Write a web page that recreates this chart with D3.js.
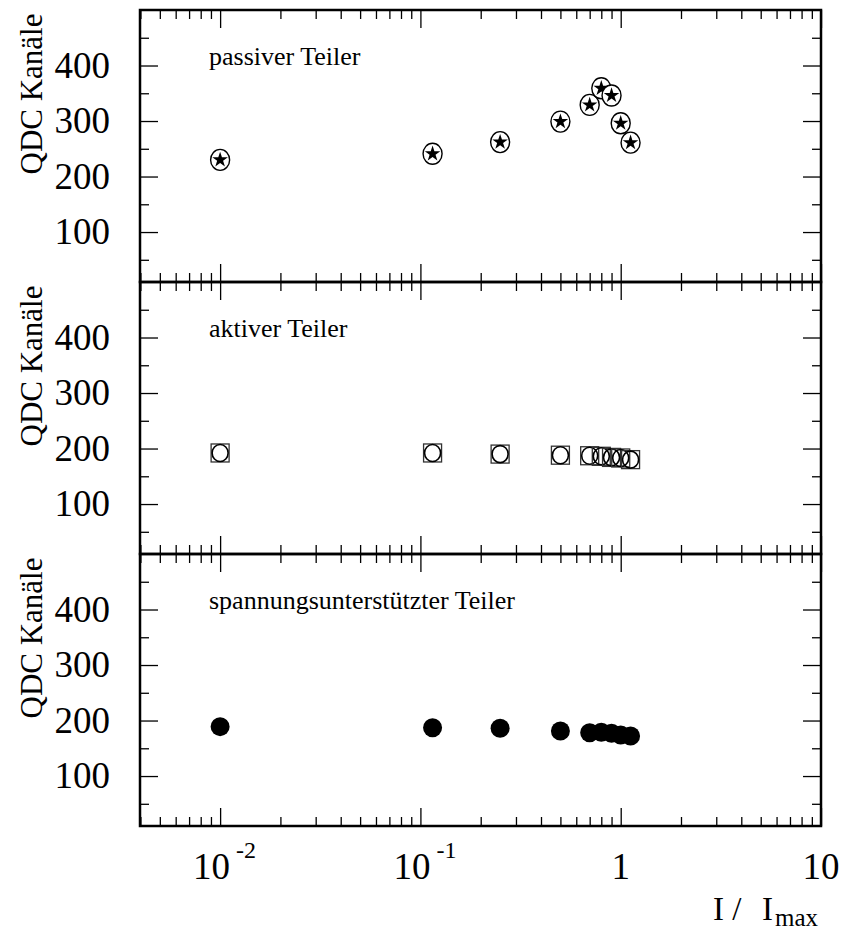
<!DOCTYPE html>
<html>
  <head>
    <meta charset="utf-8" />
    <style>
      body { margin: 0; background: #fff; }
      .tick line { stroke: #000; stroke-width: 1.3; }
      text { font-family: "Liberation Serif", "Times New Roman", Times, serif; }
    </style>
    <script src="https://d3js.org/d3.v7.min.js"></script>
  </head>
  <body>
    <svg id="chart" width="841" height="940"></svg>
    <script>
      // I / Imax values (same for all three dividers)
      var xValues = [0.01, 0.115, 0.25, 0.5, 0.7, 0.8, 0.9, 1.0, 1.12];
      // QDC channels per divider type
      var passiv = [230, 241, 262, 299, 329, 359, 346, 296, 261];
      var aktiv = [192, 192, 190, 188, 187, 186, 184, 183, 180];
      var spannung = [189, 187, 186, 181, 178, 179, 177, 174, 172];
      var panelNames = ['passiver Teiler', 'aktiver Teiler', 'spannungsunterstützter Teiler'];
      var markerTypes = ['star', 'square', 'dot'];

      var yMajor = [100, 200, 300, 400];
      var yMinor = [50, 150, 250, 350, 450];
      var xLabelValues = [0.01, 0.1, 1, 10];
      var xLabelBase = ['10', '10', '1', '10'];
      var xLabelExp = ['-2', '-1', '', ''];

      var svg = d3.select('#chart'),
        left = 140,
        right = 821,
        topY = 10,
        panelH = 272;

      var x = d3.scaleLog().domain([Math.pow(10, -2.4), 10]).range([left, right]);
      var allTicks = x.ticks();
      var xMajor = allTicks.filter((t) => Math.abs(Math.log10(t) - Math.round(Math.log10(t))) < 1e-9);
      var xMinor = allTicks.filter((t) => xMajor.indexOf(t) < 0);

      var series = [passiv, aktiv, spannung];

      series.forEach(function (vals, i) {
        var y0 = topY + i * panelH;
        var y = d3.scaleLinear().domain([10, 500]).range([y0 + panelH, y0]);
        var g = svg.append('g');

        // ticks inside the frame on all four sides
        function addAxis(axis, tr) {
          var a = g.append('g').attr('transform', tr).call(axis);
          a.select('.domain').remove();
          a.selectAll('text').remove();
          return a;
        }
        addAxis(d3.axisRight(y).tickValues(yMajor).tickSize(18), `translate(${left},0)`);
        addAxis(d3.axisRight(y).tickValues(yMinor).tickSize(9), `translate(${left},0)`);
        addAxis(d3.axisLeft(y).tickValues(yMajor).tickSize(18), `translate(${right},0)`);
        addAxis(d3.axisLeft(y).tickValues(yMinor).tickSize(9), `translate(${right},0)`);
        addAxis(d3.axisBottom(x).tickValues(xMajor).tickSize(18), `translate(0,${y0})`);
        addAxis(d3.axisBottom(x).tickValues(xMinor).tickSize(9), `translate(0,${y0})`);
        addAxis(d3.axisTop(x).tickValues(xMajor).tickSize(18), `translate(0,${y0 + panelH})`);
        addAxis(d3.axisTop(x).tickValues(xMinor).tickSize(9), `translate(0,${y0 + panelH})`);

        // y tick labels
        var yl = g
          .append('g')
          .attr('transform', `translate(${left},0)`)
          .call(d3.axisLeft(y).tickValues(yMajor).tickSize(0).tickPadding(30));
        yl.select('.domain').remove();
        yl.attr('font-family', null).attr('font-size', null);
        yl.selectAll('text')
          .attr('fill', '#000')
          .style('font-size', '37px');

        // y title
        g.append('text')
          .attr('transform', `translate(42,${y0 + 84}) rotate(-90)`)
          .attr('text-anchor', 'middle')
          .style('font-size', '31px')
          .text('QDC Kanäle');

        // panel label
        g.append('text')
          .attr('x', 209)
          .attr('y', y0 + 55)
          .style('font-size', '26px')
          .text(panelNames[i]);

        // markers
        var pts = g
          .selectAll('g.pt')
          .data(vals.map((v, k) => ({ x: xValues[k], y: v })))
          .join('g')
          .attr('class', 'pt')
          .attr('transform', (d) => `translate(${x(d.x)},${y(d.y)})`);

        if (markerTypes[i] === 'star') {
          pts.append('ellipse').attr('rx', 9.5).attr('ry', 10.5)
            .attr('fill', '#fff').attr('stroke', '#000').attr('stroke-width', 1.4);
          pts.append('path').attr('d', d3.symbol(d3.symbolStar, 75)()).attr('fill', '#000');
        } else if (markerTypes[i] === 'square') {
          pts.append('rect').attr('x', -9).attr('y', -9).attr('width', 18).attr('height', 18)
            .attr('fill', 'none').attr('stroke', '#333').attr('stroke-width', 1.3);
          pts.append('ellipse').attr('rx', 8).attr('ry', 8.5)
            .attr('fill', 'none').attr('stroke', '#000').attr('stroke-width', 1.6);
        } else {
          pts.append('circle').attr('r', 9.5).attr('fill', '#000');
        }

        // panel frame
        g.append('rect')
          .attr('x', left).attr('y', y0)
          .attr('width', right - left).attr('height', panelH)
          .attr('fill', 'none').attr('stroke', '#000').attr('stroke-width', 2.5);
      });

      // x tick labels with exponents
      var xl = svg.append('g');
      xLabelValues.forEach(function (v, k) {
        if (xLabelExp[k]) {
          xl.append('text').attr('x', x(v) - 27).attr('y', 879)
            .style('font-size', '37px').text(xLabelBase[k]);
          xl.append('text').attr('x', x(v) + 16).attr('y', 858)
            .style('font-size', '24px').text(xLabelExp[k]);
        } else {
          xl.append('text').attr('x', x(v)).attr('y', 879)
            .attr('text-anchor', 'middle')
            .style('font-size', '37px').text(xLabelBase[k]);
        }
      });

      // x title: I / I_max
      var xt = svg.append('g').style('font-size', '33px');
      xt.append('text').attr('x', 713).attr('y', 920).text('I /');
      xt.append('text').attr('x', 762).attr('y', 920).text('I');
      xt.append('text').attr('x', 775).attr('y', 926).style('font-size', '25px').text('max');
    </script>
  </body>
</html>
